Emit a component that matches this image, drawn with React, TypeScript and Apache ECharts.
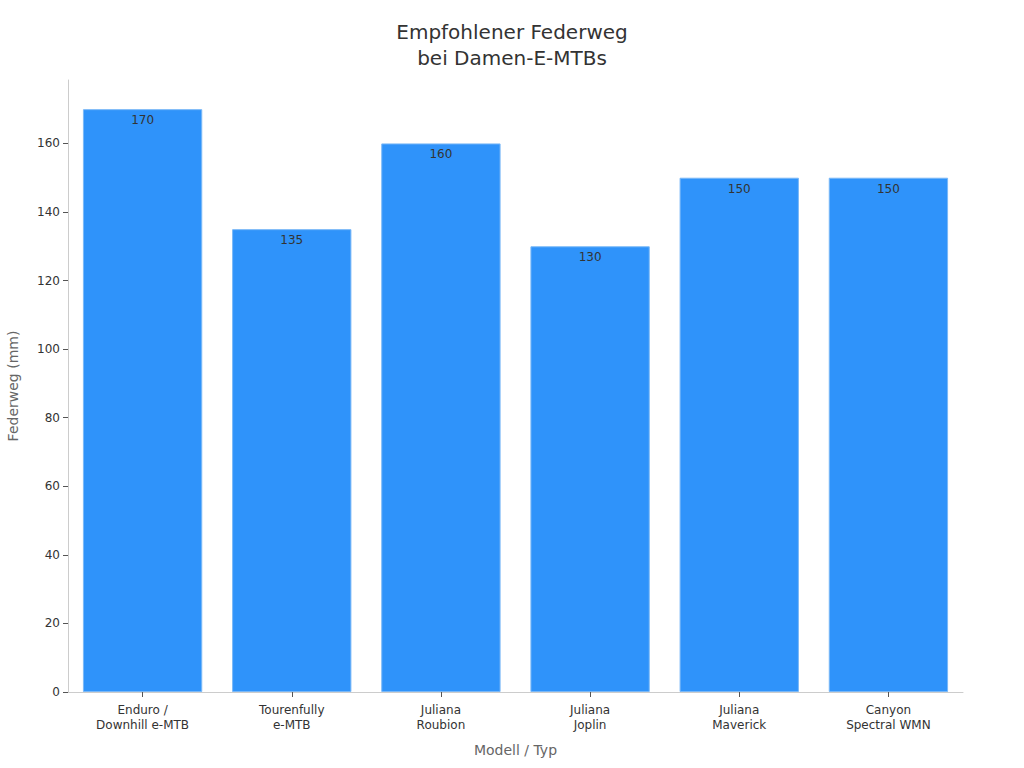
import React, { useEffect, useRef } from "react";
import * as echarts from "echarts";

const categories = [
  "Enduro /\nDownhill e-MTB",
  "Tourenfully\ne-MTB",
  "Juliana\nRoubion",
  "Juliana\nJoplin",
  "Juliana\nMaverick",
  "Canyon\nSpectral WMN",
];
const travelValues = [170, 135, 160, 130, 150, 150];
const yTicks = [0, 20, 40, 60, 80, 100, 120, 140, 160];

export default function App() {
  const ref = useRef<HTMLDivElement>(null);
  useEffect(() => {
    document.body.style.margin = "0";
    if (!ref.current) return;
    const chart = echarts.init(ref.current, null, { renderer: "svg" });
    const font = "DejaVu Sans";
    chart.setOption({
      animation: false,
      textStyle: { fontFamily: font },
      title: {
        text: "Empfohlener Federweg\nbei Damen-E-MTBs",
        left: "center",
        top: 14,
        textStyle: { fontFamily: font, fontSize: 20, fontWeight: "normal", color: "#333", lineHeight: 26 },
      },
      grid: { left: 68, right: 61, top: 80, bottom: 76, containLabel: false, outerBoundsMode: "none" },
      xAxis: {
        type: "category",
        data: categories,
        name: "Modell / Typ",
        nameLocation: "middle",
        nameGap: 51,
        nameTextStyle: { fontFamily: font, fontSize: 14, color: "#666" },
        axisLine: { show: true, lineStyle: { color: "#ccc" } },
        axisTick: { show: true, alignWithLabel: true, lineStyle: { color: "#555" } },
        axisLabel: { fontFamily: font, fontSize: 12, color: "#333", lineHeight: 15, margin: 10 },
      },
      yAxis: {
        type: "value",
        min: 0,
        max: 178.5,
        name: "Federweg (mm)",
        nameLocation: "middle",
        nameGap: 48,
        nameTextStyle: { fontFamily: font, fontSize: 14, color: "#666" },
        axisLine: { show: true, lineStyle: { color: "#ccc" } },
        axisTick: { show: true, customValues: yTicks, lineStyle: { color: "#555" } },
        axisLabel: { fontFamily: font, fontSize: 12, color: "#333", margin: 8, customValues: yTicks },
        splitLine: { show: false },
      },
      series: [
        {
          type: "bar",
          data: travelValues,
          barCategoryGap: "20%",
          itemStyle: { color: "#2f93fa", borderColor: "#7ab8f7", borderWidth: 1 },
          label: {
            show: true,
            position: "insideTop",
            distance: 5,
            fontFamily: font,
            fontSize: 12,
            color: "#333",
          },
        },
      ],
    });
    return () => chart.dispose();
  }, []);
  return <div ref={ref} style={{ width: 1024, height: 768 }} />;
}
